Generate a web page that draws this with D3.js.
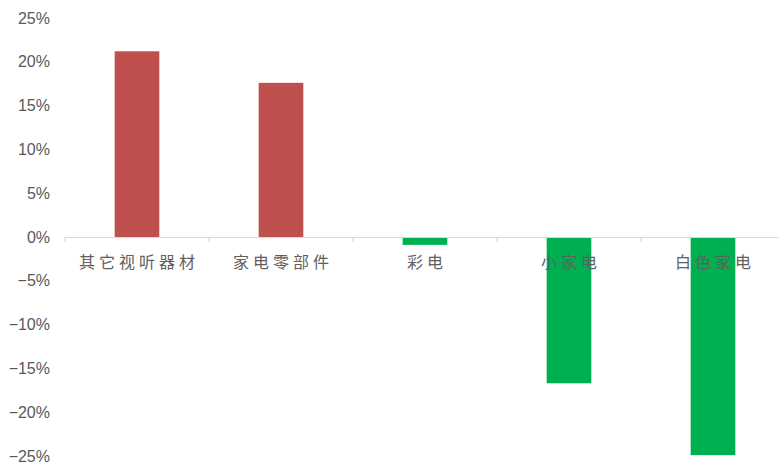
<!DOCTYPE html>
<html>
<head>
<meta charset="utf-8">
<script src="https://cdn.jsdelivr.net/npm/d3@7"></script>
<style>
  html, body { margin: 0; padding: 0; background: #fff; }
  svg { display: block; }
</style>
</head>
<body>
<div id="chart"></div>
<script>
// Year-on-year change by appliance category
const categories = ["其它视听器材", "家电零部件", "彩电", "小家电", "白色家电"];
const values = [21.2, 17.6, -0.9, -16.7, -24.9];
const yTicks = [25, 20, 15, 10, 5, 0, -5, -10, -15, -20, -25];

const W = 779, H = 467;
const svg = d3.select("#chart").append("svg")
  .attr("width", W).attr("height", H);

const x = d3.scaleBand()
  .domain(categories)
  .range([65, 785])
  .paddingInner(0.69)
  .paddingOuter(0.345);

const y = d3.scaleLinear()
  .domain([-25, 25])
  .range([456, 18]);

// Bars: red for growth, green for decline
svg.append("g").selectAll("rect")
  .data(categories.map((c, i) => ({ c, v: values[i] })))
  .join("rect")
  .attr("x", d => x(d.c))
  .attr("width", x.bandwidth())
  .attr("y", d => y(Math.max(0, d.v)))
  .attr("height", d => Math.abs(y(d.v) - y(0)))
  .attr("fill", d => d.v >= 0 ? "#C0504D" : "#00B050");

// Y axis labels (no axis line)
const yAxis = d3.axisLeft(y)
  .tickValues(yTicks)
  .tickSize(0)
  .tickPadding(0)
  .tickFormat(d => (d < 0 ? "\u2212" + Math.abs(d) : d) + "%");
const gy = svg.append("g")
  .attr("transform", "translate(50,0)")
  .call(yAxis);
gy.select(".domain").remove();
gy.selectAll("text")
  .attr("fill", "#595959")
  .style("font-family", "'Liberation Sans', Arial, sans-serif")
  .style("font-size", "16px");

// Category axis at zero
const xAxis = d3.axisBottom(x).tickSize(0).tickFormat("");
const gx = svg.append("g")
  .attr("transform", `translate(0,${y(0)})`)
  .call(xAxis);
gx.select(".domain").attr("stroke", "#d9d9d9").attr("stroke-width", 1.2);
gx.selectAll(".tick").remove();

// Boundary tick marks between categories
const step = x.step();
const bounds = d3.range(categories.length + 1).map(i => 65 + i * step);
gx.selectAll("line.sep")
  .data(bounds)
  .join("line")
  .attr("class", "sep")
  .attr("x1", d => d).attr("x2", d => d)
  .attr("y1", 0).attr("y2", 5)
  .attr("stroke", "#d9d9d9")
  .attr("stroke-width", 1.2);

// Category labels, drawn above the bars
svg.append("g").selectAll("text")
  .data(categories)
  .join("text")
  .attr("x", d => x(d) + x.bandwidth() / 2 + 2)
  .attr("y", 268)
  .attr("text-anchor", "middle")
  .attr("fill", "#606060")
  .style("font-family", "'Noto Sans CJK SC', sans-serif")
  .style("font-size", "16px")
  .style("letter-spacing", "4px")
  .text(d => d);
</script>
</body>
</html>
